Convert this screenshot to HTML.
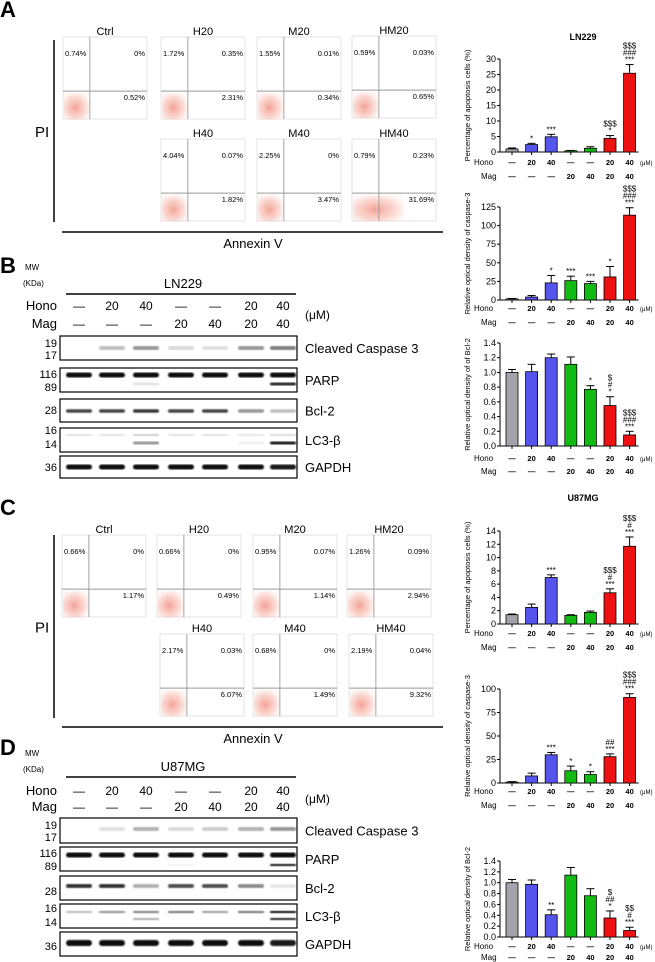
<!DOCTYPE html>
<html><head><meta charset="utf-8">
<style>
html,body{margin:0;padding:0;background:#fff;}
svg{display:block;font-family:"Liberation Sans",Arial,sans-serif;}
</style></head>
<body>
<svg id="fig" width="655" height="962" viewBox="0 0 655 962" xmlns="http://www.w3.org/2000/svg">
<defs>
<radialGradient id="dots" cx="0.45" cy="0.55" r="0.65">
<stop offset="0" stop-color="#ef7a6a" stop-opacity="0.7"/>
<stop offset="0.6" stop-color="#f5a898" stop-opacity="0.45"/>
<stop offset="1" stop-color="#fbdcd5" stop-opacity="0.15"/>
</radialGradient>
<filter id="blur"><feGaussianBlur stdDeviation="0.7"/></filter>
</defs>
<text x="0" y="17" font-size="22" font-weight="bold">A</text>
<text x="0" y="273" font-size="22" font-weight="bold">B</text>
<text x="0" y="515" font-size="22" font-weight="bold">C</text>
<text x="0" y="755" font-size="22" font-weight="bold">D</text>
<g id="flowA"></g>
<g id="flowC"></g>
<g id="blotB"></g>
<g id="blotD"></g>
<g id="charts"></g>
<text x="583" y="40" font-size="9" font-weight="bold" text-anchor="middle">LN229</text>
<text x="583" y="501" font-size="9" font-weight="bold" text-anchor="middle">U87MG</text>
</svg>
<script>
const NS='http://www.w3.org/2000/svg';
function mk(parent,tag,attrs,txt){const e=document.createElementNS(NS,tag);for(const k in attrs)e.setAttribute(k,attrs[k]);if(txt!==undefined)e.textContent=txt;parent.appendChild(e);return e;}

// ---------- Chart data ----------
const groups=['Ctrl','H20','H40','M20','M40','HM20','HM40'];
const honoLabels=['—','20','40','—','—','20','40'];
const magLabels=['—','—','—','20','40','20','40'];
const barColors=['#a3a3ab','#5555ee','#5555ee','#11bb11','#11bb11','#ee1111','#ee1111'];
const ln229Apop=[1.0,2.4,4.9,0.4,1.2,4.4,25.4];
const ln229ApopErr=[0.3,0.4,0.8,0.1,0.5,0.9,2.8];
const ln229ApopTicks=[0,5,10,15,20,25,30];
const ln229ApopSig=['','*','***','','','*|$$$','***|###|$$$'];
const ln229Casp=[1.5,4,23,26,22,31,114];
const ln229CaspErr=[0.5,2,10,6,3,14,10];
const ln229CaspTicks=[0,25,50,75,100,125];
const ln229CaspSig=['','','*','***','***','*','***|###|$$$'];
const ln229Bcl=[1.0,1.01,1.2,1.11,0.77,0.55,0.15];
const ln229BclErr=[0.04,0.1,0.05,0.1,0.05,0.12,0.05];
const bclTicks=[0,0.2,0.4,0.6,0.8,1.0,1.2,1.4];
const ln229BclSig=['','','','','*','*|#|$','***|###|$$$'];
const u87Apop=[1.4,2.5,7.0,1.3,1.75,4.7,11.7];
const u87ApopErr=[0.1,0.5,0.4,0.1,0.2,0.6,1.4];
const u87ApopTicks=[0,2,4,6,8,10,12,14];
const u87ApopSig=['','','***','','','***|#|$$$','***|#|$$$'];
const u87Casp=[1,7.5,30,13,9,28,91];
const u87CaspErr=[0.5,3,2.5,5,3,3,4];
const u87CaspTicks=[0,25,50,75,100];
const u87CaspSig=['','','***','*','*','***|##','***|###|$$$'];
const u87Bcl=[1.0,0.97,0.41,1.14,0.76,0.35,0.12];
const u87BclErr=[0.06,0.08,0.09,0.14,0.13,0.13,0.06];
const u87BclSig=['','','**','','','*|##|$','***|#|$$'];

const charts=document.getElementById('charts');
function drawChart(name,vals,errs,sig,ticks,yTopPx,y0Px,title,fmt,honoY,magY){
  const g=mk(charts,'g',{});
  
  
  const max=ticks[ticks.length-1];
  const y=v=>y0Px-(v/max)*(y0Px-yTopPx);
  const x=i=>512+19.6*i;
  const ax=500;
  const axis=mk(g,'line',{x1:ax,y1:yTopPx,x2:ax,y2:y0Px,stroke:'#000','stroke-width':1});
  
  
  const xa=mk(g,'line',{x1:ax,y1:y0Px,x2:x(6)+9,y2:y0Px,stroke:'#000','stroke-width':1});
  
  
  ticks.forEach(t=>{
    mk(g,'line',{x1:ax-3,y1:y(t),x2:ax,y2:y(t),stroke:'#000','stroke-width':1});
    const tl=mk(g,'text',{x:ax-4,y:y(t)+3,'font-size':9,'text-anchor':'end'},fmt(t));
    
    
  });
  const ym=(yTopPx+y0Px)/2;
  const at=mk(g,'text',{x:0,y:0,'font-size':7.5,'text-anchor':'middle',transform:`translate(470,${ym}) rotate(-90)`},title);
  
  
  vals.forEach((v,i)=>{
    const cx=x(i),top=y(v),et=y(v+errs[i]);
    mk(g,'line',{x1:cx,y1:et,x2:cx,y2:top,stroke:'#000','stroke-width':1});
    mk(g,'line',{x1:cx-4,y1:et,x2:cx+4,y2:et,stroke:'#000','stroke-width':1});
    const b=mk(g,'rect',{x:cx-6,y:top,width:12,height:y0Px-top,fill:barColors[i],stroke:'#000','stroke-width':0.8});
    
    
    mk(g,'line',{x1:cx,y1:y0Px,x2:cx,y2:y0Px+3,stroke:'#000','stroke-width':1});
    if(sig[i]){
      sig[i].split('|').forEach((s,k)=>{
        const st=mk(g,'text',{x:cx,y:et-2-k*7,'font-size':8,'text-anchor':'middle'},s);
        
        
      });
    }
    const h=mk(g,'text',{x:cx,y:honoY+3,'font-size':7.5,'font-weight':'bold','text-anchor':'middle'},honoLabels[i]);
    
    
    const m=mk(g,'text',{x:cx,y:magY+3,'font-size':7.5,'font-weight':'bold','text-anchor':'middle'},magLabels[i]);
    
    
  });
  const hl=mk(g,'text',{x:474,y:honoY+3,'font-size':8},'Hono');
  
  
  const ml=mk(g,'text',{x:481,y:magY+3,'font-size':8},'Mag');
  
  
  const um=mk(g,'text',{x:640,y:honoY+3,'font-size':6},'(μM)');
  
  
}
const f0=t=>String(t), f1=t=>t.toFixed(1);
drawChart('ln229-apoptosis-chart',ln229Apop,ln229ApopErr,ln229ApopSig,ln229ApopTicks,59,152,'Percentage of apoptosis cells (%)',f0,162,176);
drawChart('ln229-caspase3-chart',ln229Casp,ln229CaspErr,ln229CaspSig,ln229CaspTicks,207,300,'Relative optical density of caspase-3',f0,308,322);
drawChart('ln229-bcl2-chart',ln229Bcl,ln229BclErr,ln229BclSig,bclTicks,343,446,'Relative optical density of of Bcl-2',f1,458,471);
drawChart('u87mg-apoptosis-chart',u87Apop,u87ApopErr,u87ApopSig,u87ApopTicks,531,624,'Percentage of apoptosis cells (%)',f0,633,647);
drawChart('u87mg-caspase3-chart',u87Casp,u87CaspErr,u87CaspSig,u87CaspTicks,689,783,'Relative optical density of caspase-3',f0,791,805);
drawChart('u87mg-bcl2-chart',u87Bcl,u87BclErr,u87BclSig,bclTicks,861,937,'Relative optical density of Bcl-2',f1,946,957);

// ---------- Flow cytometry ----------
const flowNamesA=['Ctrl','H20','M20','HM20','H40','M40','HM40'];
const flowUL_A=['0.74%','1.72%','1.55%','0.59%','4.04%','2.25%','0.79%'];
const flowUR_A=['0%','0.35%','0.01%','0.03%','0.07%','0%','0.23%'];
const flowLR_A=['0.52%','2.31%','0.34%','0.65%','1.82%','3.47%','31.69%'];
const flowUL_C=['0.66%','0.66%','0.95%','1.26%','2.17%','0.68%','2.19%'];
const flowUR_C=['0%','0%','0.07%','0.09%','0.03%','0%','0.04%'];
const flowLR_C=['1.17%','0.49%','1.14%','2.94%','6.07%','1.49%','9.32%'];
function drawFlow(gid,boxes,ul,ur,lr,piTop,piBot,lineY){
  const g=document.getElementById(gid);
  boxes.forEach((b,i)=>{
    const [bx,by]=b,w=84,h=82;
    const p=mk(g,'g',{});
    
    
    const t=mk(p,'text',{x:bx+w/2,y:by-2,'font-size':11,'text-anchor':'middle'},flowNamesA[i]);
    
    
    mk(p,'rect',{x:bx,y:by,width:w,height:h,fill:'#fff',stroke:'#ddd','stroke-width':0.8});
    const wide=(lr[i]==='31.69%')?2.0:1;
    mk(p,'rect',{x:bx+1,y:by+h*0.66+2,width:w*0.3*wide,height:h*0.32,fill:'url(#dots)'});
    mk(p,'line',{x1:bx+w*0.32,y1:by,x2:bx+w*0.32,y2:by+h,stroke:'#999','stroke-width':0.9});
    mk(p,'line',{x1:bx,y1:by+h*0.66,x2:bx+w,y2:by+h*0.66,stroke:'#999','stroke-width':0.9});
    const a=mk(p,'text',{x:bx+2,y:by+19,'font-size':7.5},ul[i]);
    
    const c=mk(p,'text',{x:bx+w-2,y:by+19,'font-size':7.5,'text-anchor':'end'},ur[i]);
    
    const d=mk(p,'text',{x:bx+w-2,y:by+h*0.66+9,'font-size':7.5,'text-anchor':'end'},lr[i]);
    
  });
  const pl=mk(g,'line',{x1:54,y1:piTop,x2:54,y2:piBot,stroke:'#000','stroke-width':1.5});
  
  const pt=mk(g,'text',{x:35,y:(piTop+piBot)/2+6,'font-size':15},'PI');
  
  const al=mk(g,'line',{x1:62,y1:lineY,x2:443,y2:lineY,stroke:'#000','stroke-width':1.5});
  
  const at=mk(g,'text',{x:253,y:lineY+16,'font-size':13,'text-anchor':'middle'},'Annexin V');
  
}
drawFlow('flowA',[[63,37],[161,37],[257,37],[352,36],[161,139],[257,139],[352,139]],flowUL_A,flowUR_A,flowLR_A,40,222,232);
drawFlow('flowC',[[62,535],[157,535],[253,535],[347,535],[160,634],[253,634],[349,634]],flowUL_C,flowUR_C,flowLR_C,535,718,727);

// ---------- Western blots ----------
const lanesX=[79,112,146,181,215,251,283];
const blotLabels=['Cleaved Caspase 3','PARP','Bcl-2','LC3-β','GAPDH'];
const bCasp=[0,0.25,0.45,0.15,0.12,0.45,0.55];
const bParpTop=[1,1,1,1,1,1,1];
const bParpBot=[0,0,0.1,0,0,0,0.9];
const bBcl=[0.8,0.8,0.85,0.8,0.8,0.45,0.25];
const bLc3Top=[0.12,0.12,0.2,0.12,0.12,0.1,0.15];
const bLc3Bot=[0,0,0.45,0,0,0.05,0.95];
const bGapdh=[1,1,1,1,1,1,0.95];
const dCasp=[0,0.12,0.3,0.15,0.2,0.3,0.45];
const dParpTop=[1,1,1,1,1,1,1];
const dParpBot=[0,0,0,0.05,0,0,0.9];
const dBcl=[0.85,0.85,0.35,0.75,0.75,0.5,0.1];
const dLc3Top=[0.25,0.45,0.5,0.55,0.4,0.55,0.95];
const dLc3Bot=[0,0,0.3,0,0,0,0.85];
const dGapdh=[1,1,1,1,1,1,0.95];
function drawBlot(gid,cell,top,hY,mY,lineY,rows){
  const g=document.getElementById(gid);
  const mw=mk(g,'text',{x:25,y:top+4,'font-size':8},'MW');
  
  const kd=mk(g,'text',{x:23,y:top+20,'font-size':8},'(KDa)');
  
  const cl=mk(g,'text',{x:183,y:lineY-6,'font-size':13,'text-anchor':'middle'},cell);
  
  mk(g,'line',{x1:66,y1:lineY,x2:296,y2:lineY,stroke:'#000','stroke-width':1.5});
  const hl=mk(g,'text',{x:57,y:hY+5,'font-size':13,'text-anchor':'end'},'Hono');
  
  const ml=mk(g,'text',{x:57,y:mY+5,'font-size':13,'text-anchor':'end'},'Mag');
  
  lanesX.forEach((lx,i)=>{
    const a=mk(g,'text',{x:lx,y:hY+5,'font-size':12,'text-anchor':'middle'},honoLabels[i]);
    
    const b=mk(g,'text',{x:lx,y:mY+5,'font-size':12,'text-anchor':'middle'},magLabels[i]);
    
  });
  const um=mk(g,'text',{x:305,y:(hY+mY)/2+5,'font-size':12},'(μM)');
  
  rows.forEach((r,ri)=>{
    const rg=mk(g,'g',{});
    
    
    const [y0,h,mws,bands]=r;
    mk(rg,'rect',{x:60,y:y0,width:237,height:h,fill:'#fff',stroke:'#000','stroke-width':1.2});
    mws.forEach(([t,yy])=>{const m=mk(rg,'text',{x:57,y:y0+yy,'font-size':11,'text-anchor':'end'},t);
      });
    bands.forEach(([arr,yy,th])=>{
      arr.forEach((v,i)=>{ if(v>0) mk(rg,'rect',{x:lanesX[i]-13,y:y0+yy-th/2,width:26,height:th,rx:th/2,fill:'#111','fill-opacity':v,filter:'url(#blur)'}); });
    });
    const lb=mk(rg,'text',{x:305,y:y0+h/2+5,'font-size':13},blotLabels[ri]);
    
  });
}
drawBlot('blotB','LN229',266,305,323,294,[
 [336,24,[['19',11],['17',23]],[[bCasp,12,4]]],
 [368,24,[['116',10],['89',23]],[[bParpTop,7,5],[bParpBot,16,3]]],
 [399,23,[['28',15]],[[bBcl,12,3.5]]],
 [428,24,[['16',6],['14',20]],[[bLc3Top,7,2],[bLc3Bot,15,3]]],
 [456,22,[['36',15]],[[bGapdh,11,5]]]
]);
drawBlot('blotD','U87MG',752,790,806,777,[
 [818,25,[['19',11],['17',23]],[[dCasp,11,4]]],
 [847,24,[['116',10],['89',23]],[[dParpTop,8,5],[dParpBot,18,2.5]]],
 [876,24,[['28',19]],[[dBcl,10,4]]],
 [904,24,[['16',8],['14',22]],[[dLc3Top,8,2.5],[dLc3Bot,15,2.5]]],
 [932,24,[['36',18]],[[dGapdh,11,6]]]
]);
</script>
</body></html>
